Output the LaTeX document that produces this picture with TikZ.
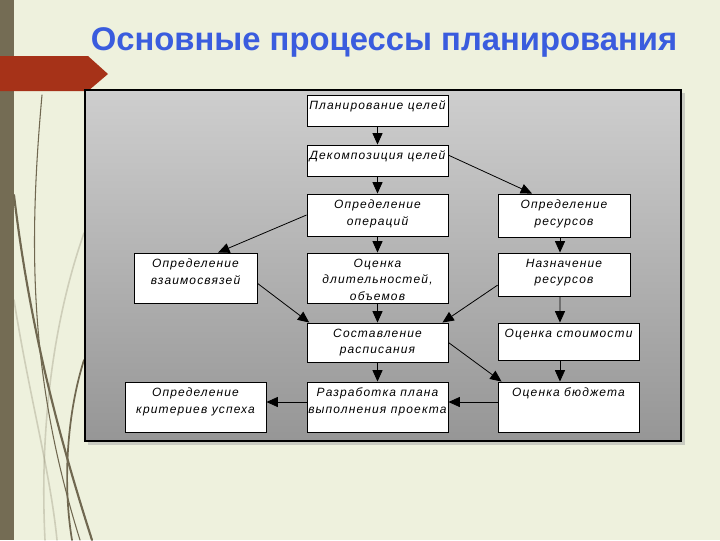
\documentclass[tikz,border=0pt]{standalone}
\usepackage{fontspec}
\setmainfont{Liberation Sans}
\newfontfamily\boxfont[LetterSpace=9.5]{Liberation Sans}
\usepackage{xcolor}
\usepackage{tikz}
\usetikzlibrary{shapes,arrows.meta}
\definecolor{slidebg}{RGB}{238,241,221}
\definecolor{sidebar}{RGB}{116,108,84}
\definecolor{ribbon}{RGB}{166,50,24}
\definecolor{titleblue}{RGB}{58,92,222}
\definecolor{stem}{RGB}{112,104,80}
\definecolor{paletop}{RGB}{206,206,206}
\definecolor{palebot}{RGB}{150,150,150}
\newlength\px
\setlength\px{0.75pt}
\newcommand{\boxtext}[3]{\parbox[c][#2\px][t]{#1\px}{\centering\vspace*{4.5pt}#3\par}}
\tikzstyle{proc} = [draw=black, fill=white, line width=0.7pt, inner sep=0pt,
font=\boxfont\itshape\fontsize{9}{12.4}\selectfont]
\tikzstyle{arrow} = [draw, line width=0.6pt, -{Triangle[length=8.5pt,width=7.5pt]}]
\tikzstyle{stemline} = [draw=stem, line cap=round]

\begin{document}
\begin{tikzpicture}[x=0.75pt, y=-0.75pt]

\useasboundingbox (0,0) rectangle (720,540);

% Slide background
\fill[slidebg] (0,0) rectangle (720,540);
\fill[sidebar] (0,0) rectangle (14,540);
\draw[stemline, line width=0.8pt] (42,95) .. controls (28,250) and (30,380) .. (80,540);
\draw[stemline, line width=1.6pt] (14,195) .. controls (30,330) and (60,440) .. (92,540);
\draw[stemline, line width=1.3pt] (84,360) .. controls (68,410) and (62,480) .. (72,540);
\draw[stemline, draw opacity=0.25, line width=1.2pt] (84,233) .. controls (50,330) and (40,440) .. (45,540);
\draw[stemline, draw opacity=0.25, line width=1.2pt] (14,300) .. controls (30,400) and (50,470) .. (57,540);
\fill[ribbon] (0,56) -- (88,56) -- (108,74) -- (88,91) -- (0,91) -- cycle;
\node[text=titleblue, font=\fontsize{24.6}{30}\selectfont\bfseries] (title) at (384,42)
  {Основные процессы планирования};

% Panel
\fill[black!35, opacity=0.5] (88,93) rectangle (685,445);
\shade[top color=paletop, bottom color=palebot] (85,90) rectangle (681,441);
\draw[black, line width=0.9pt] (85,90) rectangle (681,441);

% Place nodes
\node [proc] (goals) at (377.5,110.5) {\boxtext{141}{31}{Планирование целей}};
\node [proc] (decomp) at (377.5,160.5) {\boxtext{141}{31}{Декомпозиция целей}};
\node [proc] (ops) at (377.5,215) {\boxtext{141}{42}{Определение\\операций}};
\node [proc] (res) at (564,215.5) {\boxtext{132}{43}{Определение\\ресурсов}};
\node [proc] (links) at (195.5,278) {\boxtext{123}{50}{Определение\\взаимосвязей}};
\node [proc] (dur) at (377.5,278) {\boxtext{141}{50}{Оценка\\длительностей,\\объемов}};
\node [proc] (assign) at (564,274.5) {\boxtext{132}{43}{Назначение\\ресурсов}};
\node [proc] (sched) at (377.5,342.5) {\boxtext{141}{39}{Составление\\расписания}};
\node [proc] (cost) at (568.5,341.5) {\boxtext{141}{37}{Оценка стоимости}};
\node [proc] (crit) at (195.5,407) {\boxtext{141}{50}{Определение\\критериев успеха}};
\node [proc] (plan) at (377.5,407) {\boxtext{141}{50}{Разработка плана\\выполнения проекта}};
\node [proc] (budget) at (568.5,407) {\boxtext{141}{50}{Оценка бюджета}};

% Place lines
\draw [arrow] (goals.south) -- (decomp.north);
\draw [arrow] (decomp.south) -- (ops.north);
\draw [arrow] ([yshift=4pt]decomp.east) -- ([xshift=-24pt]res.north);
\draw [arrow] (ops.west) -- ([xshift=17pt]links.north);
\draw [arrow] (ops.south) -- (dur.north);
\draw [arrow] ([xshift=-3pt]res.south) -- ([xshift=-3pt]assign.north);
\draw [arrow] ([yshift=-4pt]links.east) -- ([xshift=2pt]sched.north west);
\draw [arrow] (dur.south) -- (sched.north);
\draw [arrow] ([yshift=-8pt]assign.west) -- ([xshift=-4.5pt]sched.north east);
\draw [arrow] ([xshift=-3pt]assign.south) -- ([xshift=-6.4pt]cost.north);
\draw [arrow] (sched.east) -- ([xshift=3pt]budget.north west);
\draw [arrow] ([xshift=-6.4pt]cost.south) -- ([xshift=-6.4pt]budget.north);
\draw [arrow] (sched.south) -- (plan.north);
\draw [arrow] ([yshift=3.75pt]budget.west) -- ([yshift=3.75pt]plan.east);
\draw [arrow] ([yshift=3.75pt]plan.west) -- ([yshift=3.75pt]crit.east);

\end{tikzpicture}
\end{document}
